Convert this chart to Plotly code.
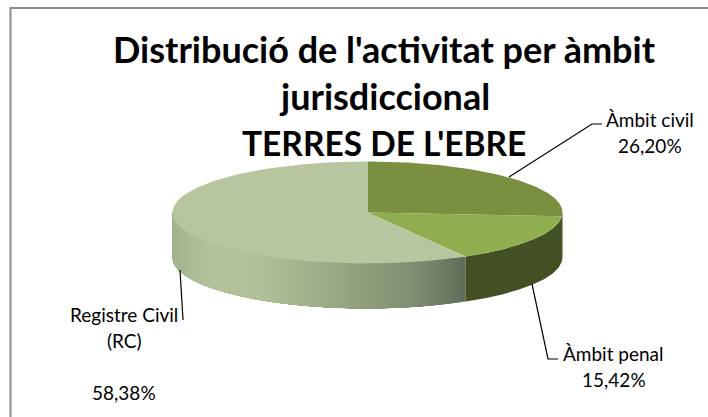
import math
import plotly.graph_objects as go

categories = ["Àmbit civil", "Àmbit penal", "Registre Civil (RC)"]
values = [26.20, 15.42, 58.38]
top_colors = ["#7a8f40", "#8fae50", "#b8c6a0"]
wall_colors = ["#435023", "#435023", None]
title_lines = ["Distribució de l'activitat per àmbit", "jurisdiccional", "TERRES DE L'EBRE"]
title_sizes = [36, 36, 33.5]
title_rows = [49, 96, 143]

# canvas-based geometry of the drawn 3D disc
W, H = 708, 417
CX, CY, RX, RY, DEPTH = 367.5, 212.5, 195, 51, 45
FONT = "Lato, Carlito, Calibri, sans-serif"
# gradient of the long wall (x on canvas, colour)
grad_stops = [(172, "#a3b38b"), (190, "#abbb93"), (215, "#b4c39b"), (260, "#b0c098"),
              (310, "#a2b18a"), (360, "#929f7e"), (410, "#828e72"), (445, "#6f7a63"), (467, "#5f6957")]


def hex2rgb(h):
    return tuple(int(h[i:i + 2], 16) for i in (1, 3, 5))


def grad_at(x):
    if x <= grad_stops[0][0]:
        return grad_stops[0][1]
    for (x0, c0), (x1, c1) in zip(grad_stops, grad_stops[1:]):
        if x <= x1:
            t = (x - x0) / (x1 - x0)
            a, b = hex2rgb(c0), hex2rgb(c1)
            return "rgb(%d,%d,%d)" % tuple(round(p + (q - p) * t) for p, q in zip(a, b))
    return grad_stops[-1][1]


def pt(a):
    return CX + RX * math.sin(a), CY - RY * math.cos(a)


def arc(a0, a1, n=80):
    return [pt(a0 + (a1 - a0) * i / n) for i in range(n + 1)]


fig = go.Figure()


def poly(points, color):
    xs = [p[0] for p in points] + [points[0][0]]
    ys = [p[1] for p in points] + [points[0][1]]
    fig.add_trace(go.Scatter(x=xs, y=ys, mode="lines", fill="toself", fillcolor=color,
                             line=dict(width=0), hoverinfo="skip", showlegend=False))


def wall_poly(a0, a1, color):
    top = arc(a0, a1, 8)
    bottom = [(x, y + DEPTH) for x, y in reversed(top)]
    poly(top + bottom, color)


# slice angles from the values, clockwise from 12 o'clock
total = sum(values)
edges = [0.0]
for v in values:
    edges.append(edges[-1] + v / total * 2 * math.pi)

# visible wall: angles between pi/2 and 3pi/2; gradient strips overlap to hide seams
for i, v in enumerate(values):
    a0, a1 = max(edges[i], math.pi / 2), min(edges[i + 1], 3 * math.pi / 2)
    if a1 <= a0 or wall_colors[i]:
        continue
    n = 70
    for k in range(n):
        b0 = a0 + (a1 - a0) * k / n
        wall_poly(b0, a1, grad_at(pt(b0 + (a1 - a0) * 0.5 / n)[0]))
for i, v in enumerate(values):
    a0, a1 = max(edges[i], math.pi / 2), min(edges[i + 1], 3 * math.pi / 2)
    if a1 > a0 and wall_colors[i]:
        wall_poly(a0, a1, wall_colors[i])

# top faces
for i, v in enumerate(values):
    poly([(CX, CY)] + arc(edges[i], edges[i + 1], 120), top_colors[i])

# leader lines
leaders = [
    ([509, 592, 602], [177, 124, 124]),
    ([532, 548, 558], [284, 359, 359]),
    ([180, 183], [270, 320]),
]
for xs, ys in leaders:
    fig.add_trace(go.Scatter(x=xs, y=ys, mode="lines", line=dict(color="#000000", width=1.2),
                             hoverinfo="skip", showlegend=False))

# texts
fmt = lambda v: ("%.2f" % v).replace(".", ",") + "%"
labels = [
    ("Àmbit civil", 649.5, 119), (fmt(values[0]), 649.5, 145.5),
    ("Àmbit penal", 613.5, 353.5), (fmt(values[1]), 614, 379.5),
    ("Registre Civil", 123.5, 314.5), ("(RC)", 124, 340.5), (fmt(values[2]), 124, 392.5),
]
ann = [dict(x=x, y=y, text=t, xref="x", yref="y", showarrow=False, xanchor="center", yanchor="middle",
            font=dict(family=FONT, size=19, color="#000000")) for t, x, y in labels]
for t, y, s in zip(title_lines, title_rows, title_sizes):
    ann.append(dict(x=384, y=y, text="<b>%s</b>" % t, xref="x", yref="y", showarrow=False,
                    xanchor="center", yanchor="middle", font=dict(family=FONT, size=s, color="#000000")))

fig.update_layout(
    width=W, height=H, margin=dict(l=0, r=0, t=0, b=0), autosize=False,
    paper_bgcolor="#ffffff", plot_bgcolor="#ffffff", showlegend=False,
    xaxis=dict(range=[0, W], visible=False, fixedrange=True),
    yaxis=dict(range=[H, 0], visible=False, fixedrange=True),
    annotations=ann,
    shapes=[dict(type="rect", xref="x", yref="y", x0=10.5, y0=8, x1=730, y1=440, layer="below",
                 line=dict(color="#8c8c8c", width=2), fillcolor="#ffffff")],
)
fig.write_html("out.html", config={"displayModeBar": False},
               post_script="document.body.style.margin='0';document.body.style.overflow='hidden';")
